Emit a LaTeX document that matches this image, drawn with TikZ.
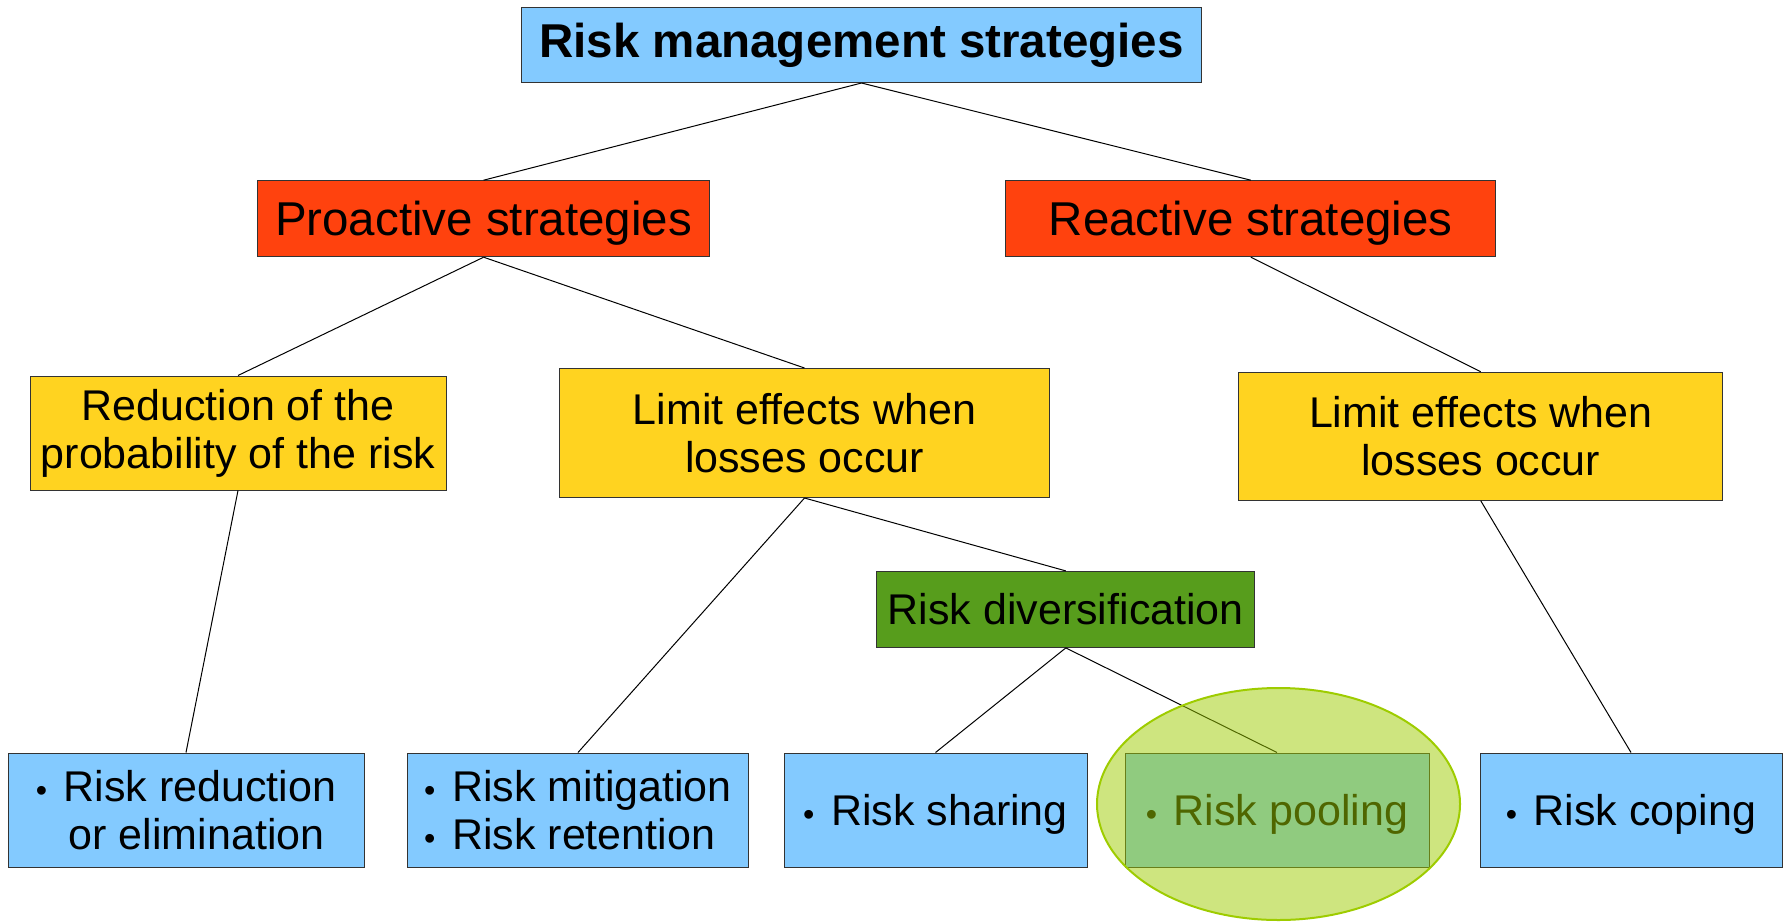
\documentclass[tikz,border=0pt]{standalone}
\usepackage{fontspec}
\setmainfont{Liberation Sans}
\definecolor{skyb}{RGB}{131,202,255}
\definecolor{redor}{RGB}{255,66,14}
\definecolor{sun}{RGB}{255,211,32}
\definecolor{leafg}{RGB}{87,157,28}
\definecolor{lime}{RGB}{158,204,0}
% small list bullet followed by a fixed indent
\newcommand\bul{\makebox[28pt][l]{\raisebox{0.01em}{\scalebox{0.75}{•}}}}
\begin{document}
\begin{tikzpicture}[x=1pt,y=-1pt,
  box/.style={draw=black!80, line width=1pt, inner sep=0pt, align=center,
    font=\fontsize{43}{48}\selectfont},
  big/.style={font=\fontsize{47.5}{52}\selectfont},
  leaf/.style={box, fill=skyb, minimum height=114pt, align=left, text depth=0pt},
  link/.style={draw=black, line width=1pt}]
\useasboundingbox (0,0) rectangle (1785,921);

% top level
\node[box, big, fill=skyb, minimum width=680pt, minimum height=75pt] (root) at (861.5,45)
  {\textbf{Risk management strategies}};

% strategy families
\node[box, big, fill=redor, minimum width=452pt, minimum height=76pt, text depth=0pt] (pro) at (483.6,218.7)
  {Proactive strategies};
\node[box, big, fill=redor, minimum width=490pt, minimum height=76pt, text depth=0pt] (rea) at (1250.8,218.7)
  {Reactive strategies};

% approaches
\node[box, fill=sun, minimum width=416pt, minimum height=114pt] (red) at (238,433)
  {Reduction of the\\probability of the risk};
\node[box, fill=sun, minimum width=490pt, minimum height=129pt] (lim1) at (804.5,433)
  {Limit effects when\\losses occur};
\node[box, fill=sun, minimum width=484pt, minimum height=128pt] (lim2) at (1480.7,436.2)
  {Limit effects when\\losses occur};
\node[box, fill=leafg, minimum width=378pt, minimum height=76pt] (div) at (1065.8,609.4)
  {Risk diversification};

% instruments
\node[leaf, minimum width=356pt] (rr) at (186,810)
  {\bul Risk reduction\\\hspace*{33pt}or elimination};
\node[leaf, minimum width=340.5pt] (rm) at (578,810)
  {\bul Risk mitigation\\\bul Risk retention};
\node[leaf, minimum width=303pt] (rs) at (935.5,810)
  {\bul Risk sharing};
\node[leaf, minimum width=304pt] (rp) at (1277,810)
  {\bul Risk pooling};
\node[leaf, minimum width=302pt] (rc) at (1631,810)
  {\bul Risk coping};

% tree links
\draw[link] (root.south) -- (pro.north);
\draw[link] (root.south) -- (rea.north);
\draw[link] (pro.south) -- (red.north);
\draw[link] (pro.south) -- (lim1.north);
\draw[link] (rea.south) -- (lim2.north);
\draw[link] (red.south) -- (rr.north);
\draw[link] (lim1.south) -- (rm.north);
\draw[link] (lim1.south) -- (div.north);
\draw[link] (div.south) -- (rs.north);
\draw[link] (div.south) -- (rp.north);
\draw[link] (lim2.south) -- (rc.north);

% highlight over risk pooling
\draw[draw=lime, line width=2pt, fill=lime, fill opacity=0.5]
  (1278.5,804) ellipse [x radius=181.5pt, y radius=116pt];
\end{tikzpicture}
\end{document}
